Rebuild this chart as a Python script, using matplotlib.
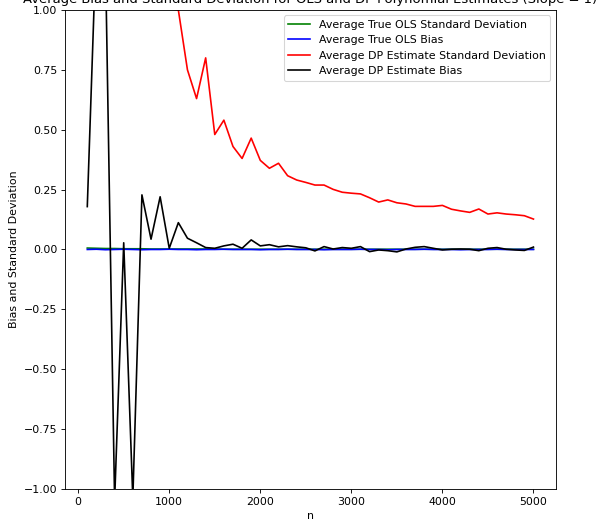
import numpy as np
import matplotlib
matplotlib.use("Agg")
import matplotlib.pyplot as plt

# sample sizes
n = np.arange(100, 5001, 100)

# average true OLS standard deviation (sits just above zero)
ols_sd = [0.006, 0.005, 0.004, 0.004, 0.003, 0.003, 0.003, 0.002, 0.002, 0.002,
          0.002, 0.002, 0.002, 0.002, 0.002, 0.001, 0.001, 0.001, 0.001, 0.001,
          0.001, 0.001, 0.001, 0.001, 0.001, 0.001, 0.001, 0.001, 0.001, 0.001,
          0.001, 0.001, 0.001, 0.001, 0.001, 0.001, 0.001, 0.001, 0.001, 0.001,
          0.001, 0.001, 0.001, 0.001, 0.001, 0.001, 0.001, 0.001, 0.001, 0.001]

# average true OLS bias
ols_bias = [0.0, 0.001, -0.001, 0.0, 0.001, 0.0, -0.001, 0.0, 0.0, 0.001,
            0.0, 0.0, -0.001, 0.0, 0.0, 0.001, 0.0, 0.0, 0.0, -0.001,
            0.0, 0.0, 0.001, 0.0, 0.0, 0.0, -0.001, 0.0, 0.0, 0.0,
            0.001, 0.0, 0.0, -0.001, 0.0, 0.0, 0.0, 0.001, 0.0, 0.0,
            0.0, -0.001, 0.0, 0.0, 0.0, 0.001, 0.0, 0.0, 0.0, 0.0]

# average DP estimate standard deviation
dp_sd = [1.006, 1.006, 1.006, 1.006, 1.006, 1.006, 1.006, 1.006, 1.006, 1.006,
         1.0, 0.75, 0.63, 0.80, 0.48, 0.54, 0.43, 0.38, 0.465, 0.372,
         0.339, 0.36, 0.308, 0.29, 0.28, 0.269, 0.269, 0.251, 0.239, 0.235,
         0.232, 0.216, 0.198, 0.207, 0.195, 0.19, 0.18, 0.18, 0.18, 0.184,
         0.168, 0.161, 0.155, 0.169, 0.148, 0.153, 0.148, 0.145, 0.141, 0.127]

# average DP estimate bias
dp_bias = [0.179, 1.3, 1.2, -1.05, 0.028, -1.04, 0.228, 0.043, 0.22, 0.005,
           0.112, 0.047, 0.028, 0.008, 0.005, 0.015, 0.022, 0.005, 0.04, 0.015,
           0.02, 0.011, 0.016, 0.011, 0.007, -0.006, 0.012, 0.002, 0.008, 0.005,
           0.012, -0.009, -0.002, -0.005, -0.01, 0.002, 0.009, 0.012, 0.005, -0.002,
           0.001, 0.002, 0.001, -0.005, 0.005, 0.008, 0.001, -0.002, -0.004, 0.01]

# low dpi so the default font sizes come out as in the notebook render
dpi = 79
fig = plt.figure(figsize=(600 / dpi, 525 / dpi), dpi=dpi)
ax = fig.add_axes([0.1083, 0.0686, 0.818, 0.9124])

ax.plot(n, ols_sd, color="green", label="Average True OLS Standard Deviation")
ax.plot(n, ols_bias, color="blue", label="Average True OLS Bias")
ax.plot(n, dp_sd, color="red", label="Average DP Estimate Standard Deviation")
ax.plot(n, dp_bias, color="black", label="Average DP Estimate Bias")

ax.set_ylim(-1, 1)
ax.set_xlabel("n")
ax.set_ylabel("Bias and Standard Deviation")
ax.set_title("Average Bias and Standard Deviation for OLS and DP Polynomial Estimates (Slope = 1)")
ax.legend(loc="upper right")

fig.savefig("out.png", dpi=dpi)
